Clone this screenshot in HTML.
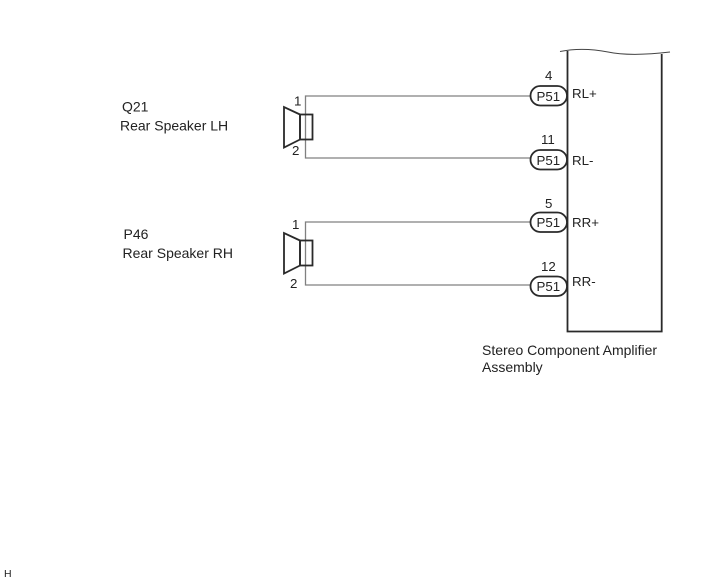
<!DOCTYPE html>
<html><head><meta charset="utf-8"><style>
html,body{margin:0;padding:0;background:#fff}
svg{display:block}
text{font-family:"Liberation Sans",sans-serif;font-size:14px;fill:#222}
.s{font-size:13.3px}
</style></head><body>
<svg width="713" height="581" viewBox="0 0 713 581">
<g fill="none" stroke="#808080" stroke-width="1.3">
<path d="M530 96H305.5V158H530"/>
<path d="M530 222H305.5V285H530"/>
</g>
<g fill="none" stroke="#2a2a2a" stroke-width="1.8">
<path d="M567.5 51V331.5H661.7V54"/>
<path d="M560 51.5C575 48.5 590 48.5 608 52C622 55 640 55.5 670 52" stroke-width="1" stroke="#444"/>
<path d="M300 114.5L284 107L284 147.5L300 139.5Z"/>
<rect x="300" y="114.5" width="12.5" height="25"/>
<path d="M300 240.5L284 233L284 273.5L300 265.5Z"/>
<rect x="300" y="240.5" width="12.5" height="25"/>
<g fill="#fff">
<rect x="530.5" y="86" width="36.5" height="19.5" rx="9.7"/>
<rect x="530.5" y="150" width="36.5" height="19.5" rx="9.7"/>
<rect x="530.5" y="212.5" width="36.5" height="19.5" rx="9.7"/>
<rect x="530.5" y="276.5" width="36.5" height="19.5" rx="9.7"/>
</g>
</g>
<text x="122" y="111.5">Q21</text>
<text x="120" y="130.5">Rear Speaker LH</text>
<text x="123.5" y="239">P46</text>
<text x="122.5" y="258">Rear Speaker RH</text>
<text class="s" x="294" y="105.5">1</text>
<text class="s" x="292" y="155">2</text>
<text class="s" x="292" y="229">1</text>
<text class="s" x="290" y="288">2</text>
<text class="s" x="545" y="80">4</text>
<text class="s" x="541" y="144">11</text>
<text class="s" x="545" y="208">5</text>
<text class="s" x="541" y="271">12</text>
<text class="s" x="536.5" y="101">P51</text>
<text class="s" x="536.5" y="165">P51</text>
<text class="s" x="536.5" y="227">P51</text>
<text class="s" x="536.5" y="291">P51</text>
<text class="s" x="572" y="98">RL+</text>
<text class="s" x="572" y="165">RL-</text>
<text class="s" x="572" y="227">RR+</text>
<text class="s" x="572" y="286">RR-</text>
<text x="482" y="355">Stereo Component Amplifier</text>
<text x="482" y="372">Assembly</text>
<text x="4" y="577" style="font-size:10.5px">H</text>
</svg>
</body></html>
